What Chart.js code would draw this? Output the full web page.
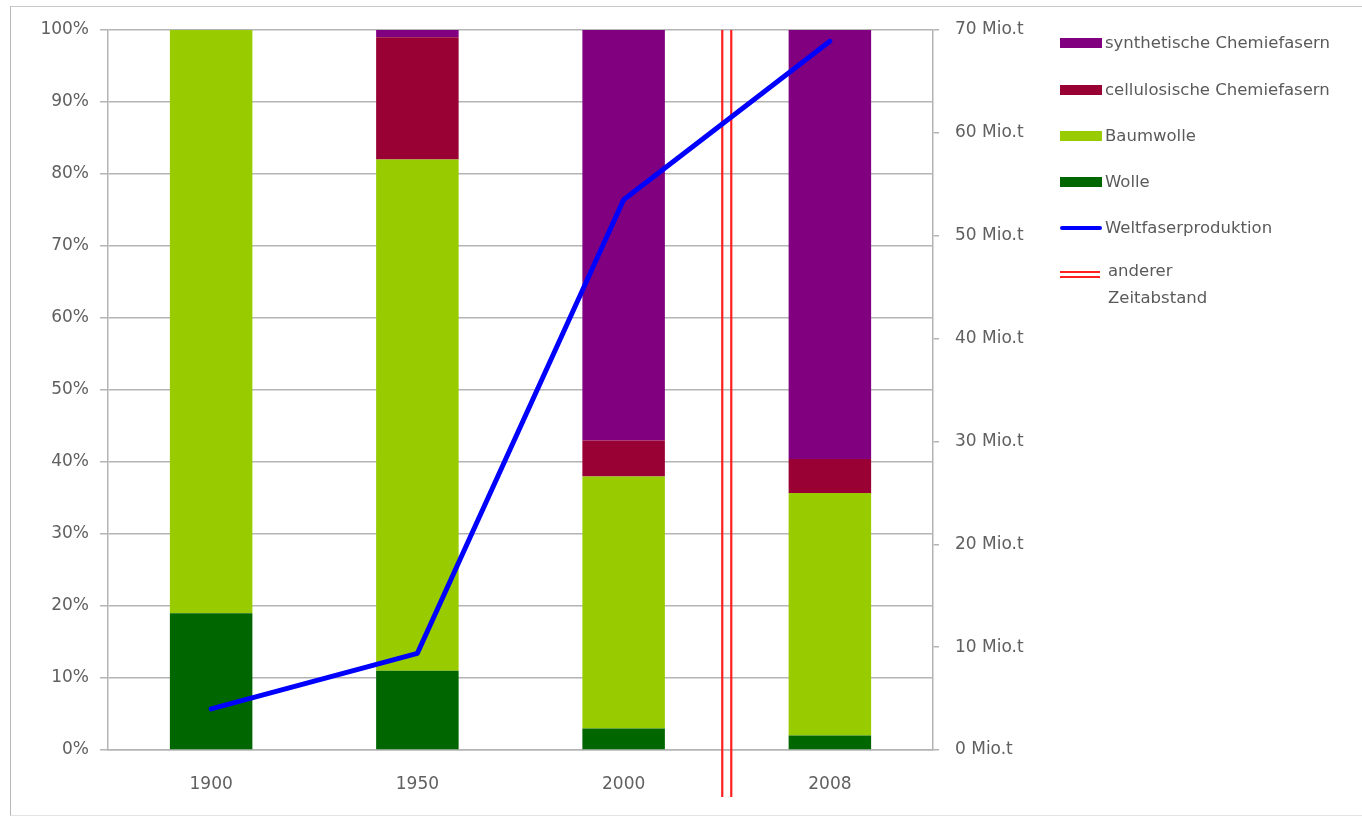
<!DOCTYPE html>
<html>
<head>
<meta charset="utf-8">
<script src="https://cdn.jsdelivr.net/npm/chart.js@4/dist/chart.umd.min.js"></script>
<style>
html,body{margin:0;padding:0;background:#fff;}
#wrap{position:relative;width:1362px;height:820px;overflow:hidden;}
#frame{position:absolute;left:10px;top:6px;width:1400px;height:810px;border-left:1.5px solid #b8b8b8;border-top:1.5px solid #c8c8c8;border-bottom:1.5px solid #e4e4e4;box-sizing:border-box;}
canvas{position:absolute;left:0;top:0;}
.lg{position:absolute;left:1060px;font-family:"DejaVu Sans",sans-serif;font-size:16.5px;color:#5a5a5a;white-space:nowrap;}
.lg .sw{position:absolute;left:0;width:42px;}
.lg .tx{position:absolute;left:45px;}
</style>
</head>
<body>
<div id="wrap">
<div id="frame"></div>
<canvas id="c" width="1362" height="820"></canvas>
<div id="legend"></div>
</div>
<script>
const categories = ["1900", "1950", "2000", "2008"];
const wolle = [19, 11, 3, 2];
const baumwolle = [81, 71, 35, 33.7];
const cellulosisch = [0, 17, 5, 4.7];
const synthetisch = [0, 1, 57, 59.6];
const weltfaser = [4.0, 9.4, 53.5, 68.9];
const leftTicks = [0, 10, 20, 30, 40, 50, 60, 70, 80, 90, 100];
const rightTicks = [0, 10, 20, 30, 40, 50, 60, 70];

const seriesNames = ["synthetische Chemiefasern", "cellulosische Chemiefasern", "Baumwolle", "Wolle", "Weltfaserproduktion", "anderer\nZeitabstand"];
const colors = {syn:"#800080", cel:"#990033", baum:"#99cc00", wol:"#006600", line:"#0000ff", red:"#ff2020"};

const gridCol = "#b4b4b4";
const tickFont = {family:"DejaVu Sans", size:17};
const tickCol = "#606060";

const breakPlugin = {
  id:"breakLines",
  beforeDatasetsDraw(chart){
    const x = chart.scales.x;
    const mid = (x.getPixelForValue(2) + x.getPixelForValue(3)) / 2;
    const ctx = chart.ctx;
    const top = chart.chartArea.top;
    const bottom = chart.chartArea.bottom + 47;
    ctx.save();
    ctx.strokeStyle = colors.red;
    ctx.lineWidth = 2.2;
    [-4.5, 4.5].forEach(d=>{
      ctx.beginPath();
      ctx.moveTo(mid + d, top);
      ctx.lineTo(mid + d, bottom);
      ctx.stroke();
    });
    ctx.restore();
  }
};

new Chart(document.getElementById("c"), {
  data:{
    labels:categories,
    datasets:[
      {type:"line", label:seriesNames[4], data:weltfaser, yAxisID:"y1", borderColor:colors.line, borderWidth:5, pointRadius:0, tension:0, order:0, borderJoinStyle:"round", borderCapStyle:"round"},
      {type:"bar", label:seriesNames[3], data:wolle, backgroundColor:colors.wol, stack:"s", yAxisID:"y", order:1},
      {type:"bar", label:seriesNames[2], data:baumwolle, backgroundColor:colors.baum, stack:"s", yAxisID:"y", order:1},
      {type:"bar", label:seriesNames[1], data:cellulosisch, backgroundColor:colors.cel, stack:"s", yAxisID:"y", order:1},
      {type:"bar", label:seriesNames[0], data:synthetisch, backgroundColor:colors.syn, stack:"s", yAxisID:"y", order:1}
    ]
  },
  options:{
    responsive:false,
    animation:false,
    devicePixelRatio:1,
    layout:{padding:{top:30, left:0, right:0, bottom:0}},
    datasets:{bar:{barPercentage:0.4, categoryPercentage:1.0}},
    plugins:{legend:{display:false}, tooltip:{enabled:false}},
    scales:{
      x:{
        stacked:true,
        offset:true,
        grid:{display:false, drawTicks:false},
        border:{display:true, color:gridCol, width:1.5},
        ticks:{font:tickFont, color:tickCol, padding:24},
        afterFit(s){ s.height = 70; }
      },
      y:{
        stacked:true,
        position:"left",
        min:0, max:100,
        afterBuildTicks(s){ s.ticks = leftTicks.map(v=>({value:v})); },
        grid:{color:gridCol, lineWidth:1.5, tickLength:8},
        border:{display:true, color:gridCol, width:1.5},
        ticks:{font:tickFont, color:tickCol, padding:11, callback:v=>v+"%"},
        afterFit(s){ s.width = 108; }
      },
      y1:{
        position:"right",
        min:0, max:70,
        afterBuildTicks(s){ s.ticks = rightTicks.map(v=>({value:v})); },
        grid:{drawOnChartArea:false, color:gridCol, lineWidth:1.5, tickLength:6},
        border:{display:true, color:gridCol, width:1.5},
        ticks:{font:tickFont, color:tickCol, padding:16, callback:v=>v+" Mio.t"},
        afterFit(s){ s.width = 1362 - 933; }
      }
    }
  },
  plugins:[breakPlugin]
});

// legend
const lg = document.getElementById("legend");
const rows = [
  {name:seriesNames[0], kind:"box", col:colors.syn, y:43},
  {name:seriesNames[1], kind:"box", col:colors.cel, y:90},
  {name:seriesNames[2], kind:"box", col:colors.baum, y:136},
  {name:seriesNames[3], kind:"box", col:colors.wol, y:182},
  {name:seriesNames[4], kind:"line", col:colors.line, y:228},
  {name:seriesNames[5], kind:"dbl", col:colors.red, y:272}
];
rows.forEach(r=>{
  const d = document.createElement("div");
  d.className = "lg";
  d.style.top = (r.y - 11) + "px";
  const sw = document.createElement("div");
  sw.className = "sw";
  if (r.kind === "box") { sw.style.top = "6px"; sw.style.height = "10px"; sw.style.background = r.col; }
  else if (r.kind === "line") { sw.style.top = "9px"; sw.style.height = "4px"; sw.style.borderRadius = "2px"; sw.style.background = r.col; }
  else { sw.style.top = "10px"; sw.style.height = "2px"; sw.style.background = r.col; sw.style.boxShadow = "0 5px 0 " + r.col; sw.style.width = "40px"; }
  const tx = document.createElement("div");
  tx.className = "tx";
  if (r.kind === "dbl") { tx.style.left = "48px"; tx.style.lineHeight = "27px"; tx.style.top = "-4px"; }
  tx.innerHTML = r.name.replace("\n", "<br>");
  if (r.kind !== "dbl") tx.style.lineHeight = "22px";
  d.appendChild(sw); d.appendChild(tx);
  lg.appendChild(d);
});
</script>
</body>
</html>
